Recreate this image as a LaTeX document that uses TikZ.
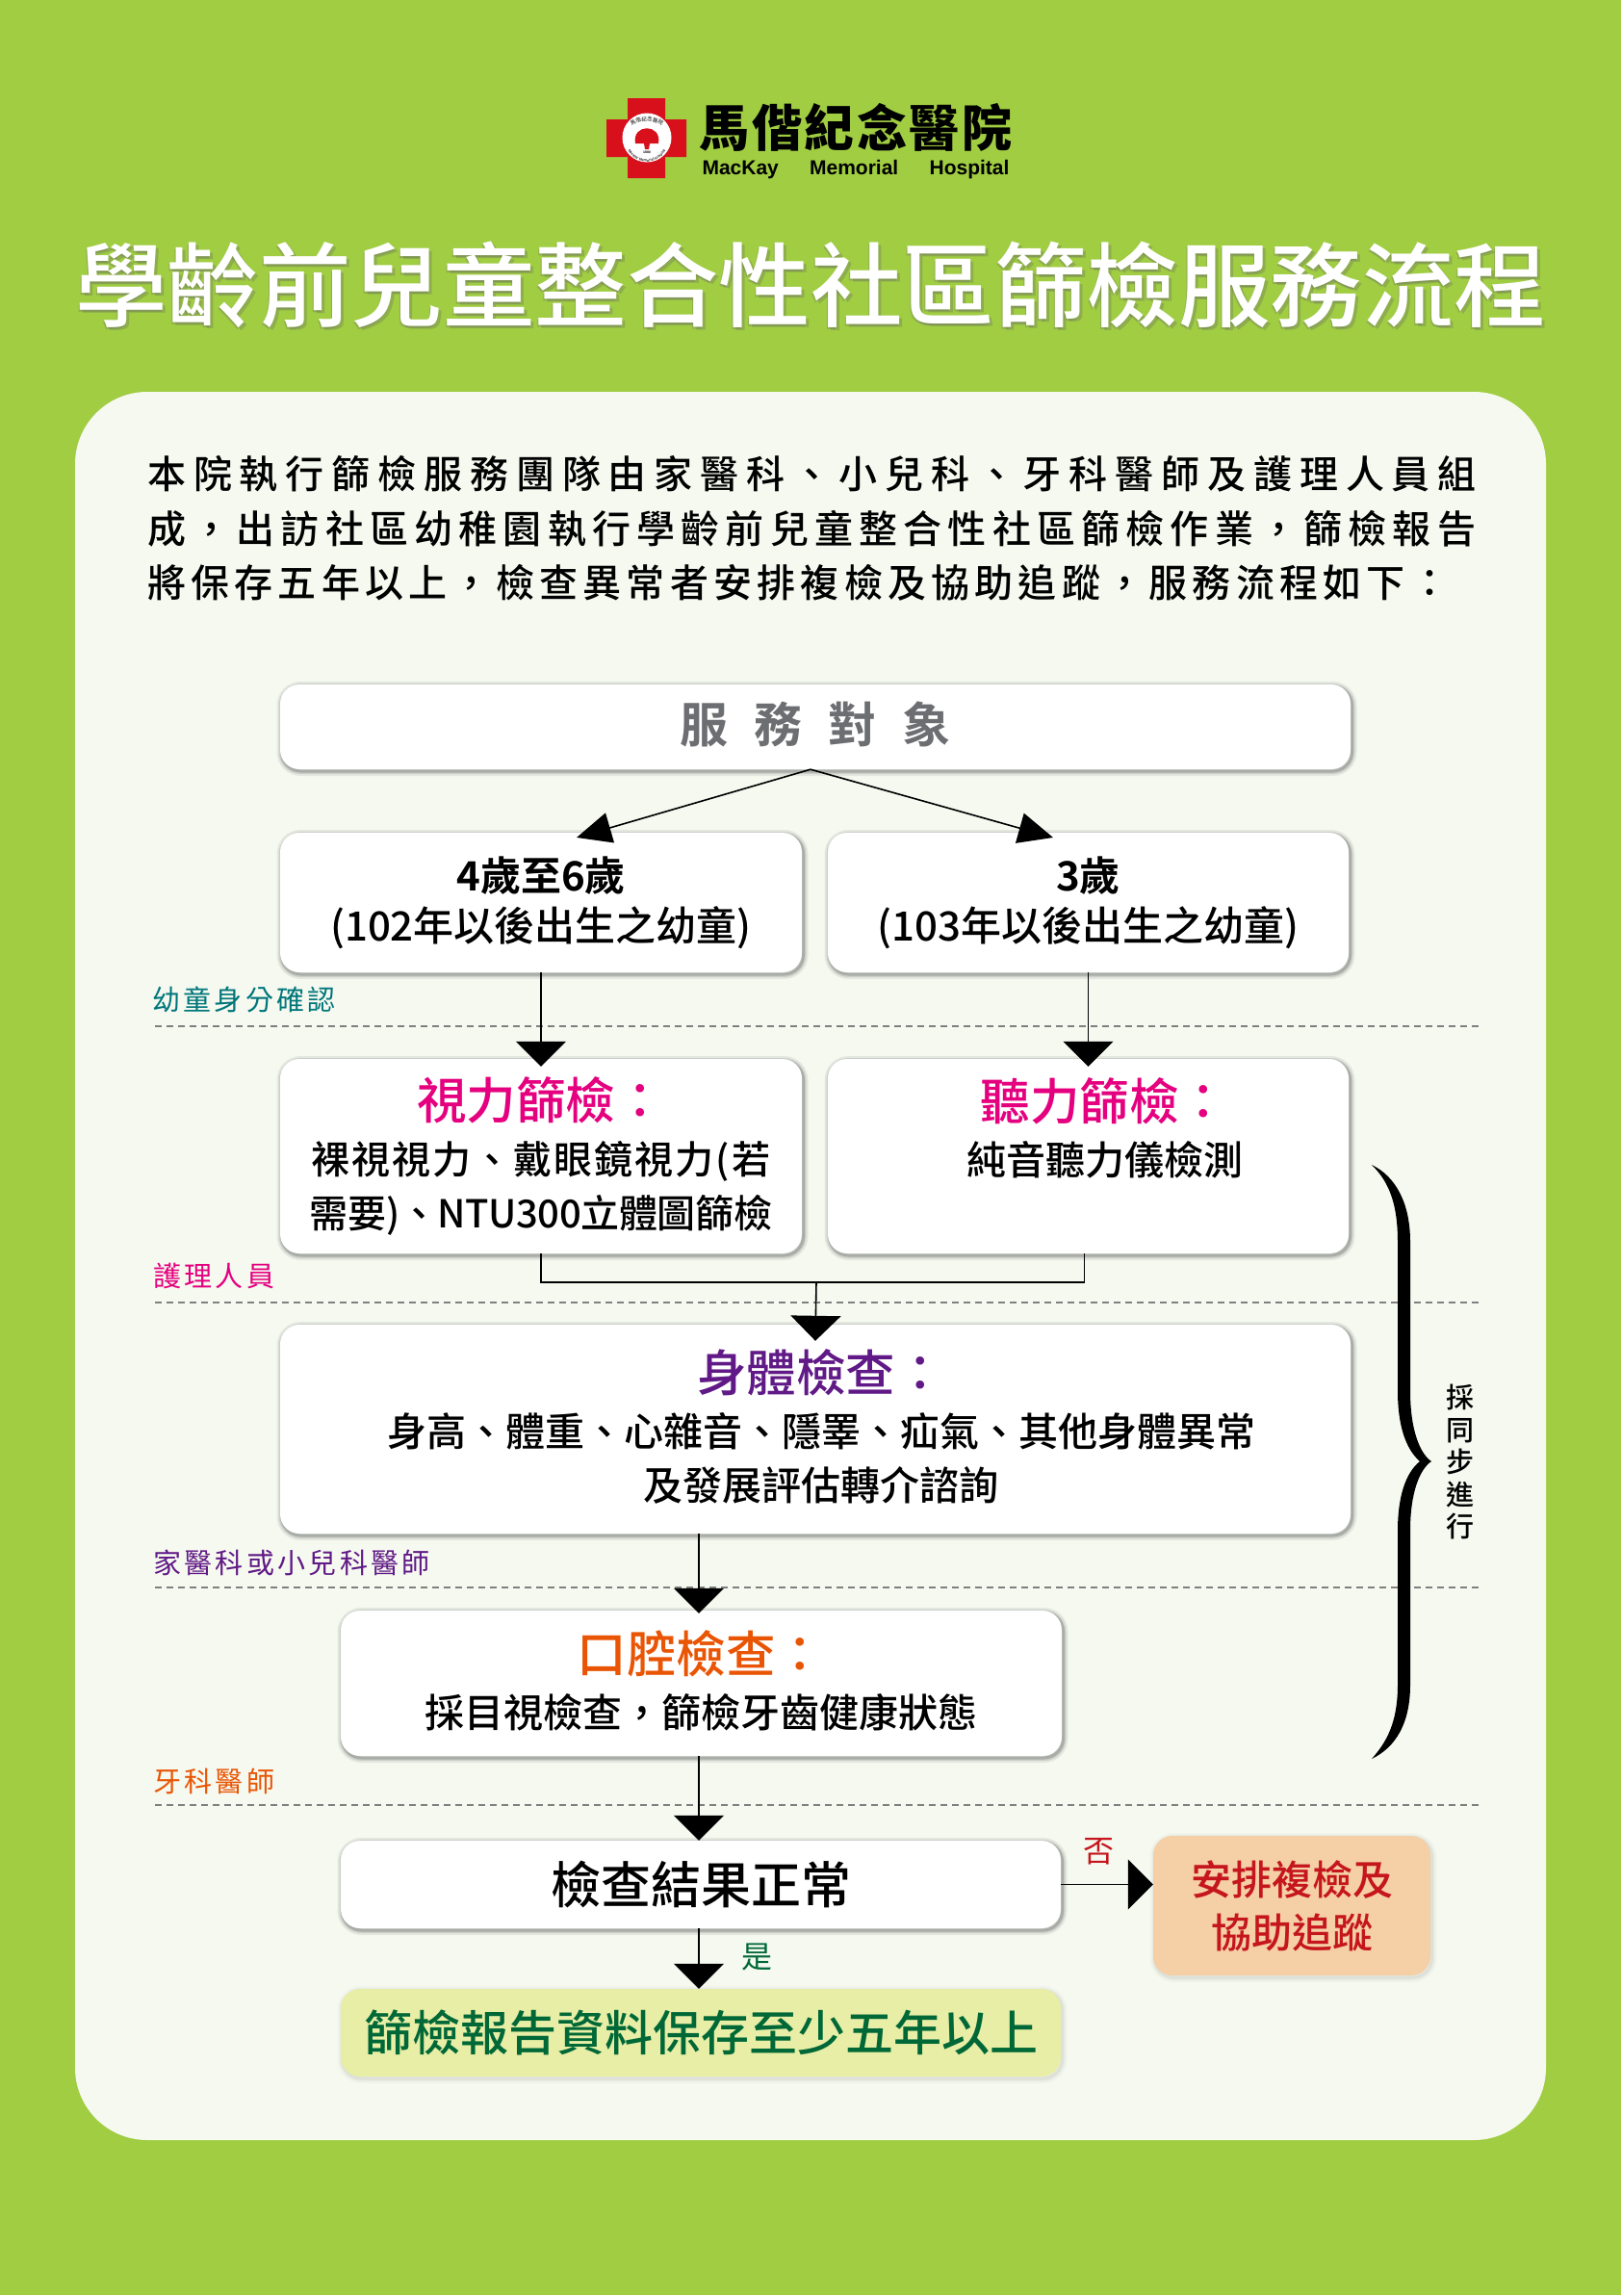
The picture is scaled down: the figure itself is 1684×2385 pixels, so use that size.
\documentclass[tikz,border=0pt]{standalone}
\usepackage{fontspec}
\setmainfont{Noto Sans CJK TC Medium}[BoldFont={Noto Sans CJK TC Bold}]
\newfontfamily\titlefont{Noto Sans CJK TC Medium}
\newfontfamily\brushfont{Noto Sans CJK TC Black}[LetterSpace=5]
\newfontfamily\logoenfont{Liberation Sans}
\newfontfamily\stagefont{Noto Sans CJK TC}[LetterSpace=11.5]
\usetikzlibrary{arrows.meta,decorations.text}
\definecolor{pagegreen}{HTML}{A0CD42}
\definecolor{panelbg}{HTML}{F5F9F0}
\definecolor{crossred}{HTML}{D7101C}
\definecolor{headgray}{HTML}{6D6E71}
\definecolor{stageteal}{HTML}{00767A}
\definecolor{stagepink}{HTML}{E5007F}
\definecolor{stagepurple}{HTML}{601986}
\definecolor{stageorange}{HTML}{E95504}
\definecolor{noteorange}{HTML}{F5CFA5}
\definecolor{notered}{HTML}{C5161D}
\definecolor{keepgreen}{HTML}{E8EEA5}
\definecolor{yesgreen}{HTML}{006837}
\newcommand{\titletext}{學齡前兒童整合性社區篩檢服務流程}
\newcommand{\boxhead}[2]{{\fontsize{51.5}{56}\selectfont\color{#1}#2}\\[1pt]}
\newcommand{\lifted}[1]{\raisebox{3pt}[\height][\depth]{#1}}
\tikzset{
  shadowring/.style 2 args={
    preaction={draw=black,draw opacity=#2,line width=#1,transform canvas={xshift=1.5pt,yshift=-2pt}}
  },
  flowbox/.style={
    rounded corners=20pt,
    fill=white,
    inner sep=0pt,
    align=center,
    font=\fontsize{41}{56}\selectfont,
    shadowring={10pt}{.07},
    shadowring={6pt}{.1},
    shadowring={3pt}{.16}
  },
  softbox/.style={
    rounded corners=20pt,
    inner sep=0pt,
    align=center,
    shadowring={10pt}{.025},
    shadowring={6pt}{.03},
    shadowring={3pt}{.04}
  },
  stagelabel/.style={anchor=west,inner sep=0pt,font=\stagefont\fontsize{29}{30}\selectfont},
  stageline/.style={gray,line width=1.4pt,dash pattern=on 7pt off 5pt},
  flowline/.style={line width=1.6pt,-{Triangle[length=26pt,width=52pt]}},
  slantline/.style={line width=1.6pt,-{Triangle[length=36pt,width=32pt]}},
}
\begin{document}
\begin{tikzpicture}[x=1pt,y=-1pt]
\useasboundingbox (0,0) rectangle (1684,2385);
\fill[pagegreen] (0,0) rectangle (1684,2384);
% logo
\fill[crossred] (652,102) rectangle (691,185) (630,124) rectangle (713,163);
\fill[white] (672,143) circle[radius=25.5pt];
\fill[crossred] (660,149) .. controls (656,128) and (688,128) .. (684,149) -- (675,149) -- (674,155) -- (670,155) -- (669,149) -- cycle;
\path[decorate,decoration={text along path,text align=center,text color=black!80,text={|\fontsize{5.5}{6}\selectfont|馬偕紀念醫院}}] (651,147) .. controls (646,119) and (698,119) .. (693,147);
\path[decorate,decoration={text along path,text align=center,text color=black!80,text={|\logoenfont\bfseries\fontsize{3.8}{4}\selectfont|MacKay Memorial Hospital}}] (650,150) .. controls (656,174) and (688,174) .. (694,150);
\node[inner sep=0pt,font=\logoenfont\bfseries\fontsize{3.5}{4}\selectfont] (logoyear) at (672,158) {1880};
\node[inner sep=0pt,font=\brushfont\fontsize{52}{54}\selectfont] (logoname) at (889,132) {馬偕紀念醫院};
\node[inner sep=0pt,font=\logoenfont\bfseries\fontsize{21}{24}\selectfont] (logoen) at (889,176) {\makebox[319pt]{MacKay\hfill Memorial\hfill Hospital}};
% title
\foreach \shiftx/\shifty in {3/3,-1/2} {
  \node[inner sep=0pt,opacity=.3,font=\titlefont\fontsize{95.5}{100}\selectfont,text=black!60] at (842+\shiftx,296+\shifty) {\titletext};
}
\node[inner sep=0pt,font=\titlefont\fontsize{95.5}{100}\selectfont,text=white] (title) at (842,296) {\titletext};
% panel
\node[fill=panelbg,rounded corners=75pt,minimum width=1528pt,minimum height=1816pt,inner sep=0pt] (panel) at (842,1315) {};
\node[anchor=west,inner sep=0pt,align=left,font=\fontsize{40}{56.3}\selectfont] (intro) at (153,549) {%
{\addfontfeature{LetterSpace=19.7}本院執行篩檢服務團隊由家醫科、小兒科、牙科醫師及護理人員組}\\
{\addfontfeature{LetterSpace=15.5}成，出訪社區幼稚園執行學齡前兒童整合性社區篩檢作業，篩檢報告}\\
{\addfontfeature{LetterSpace=13.1}將保存五年以上，檢查異常者安排複檢及協助追蹤，服務流程如下：}};
% stage rules
\foreach \ruley in {1066,1353,1649,1875} {
  \draw[stageline] (161,\ruley) -- (1537,\ruley);
}
\node[stagelabel,text=stageteal] (stagea) at (158,1038) {幼童身分確認};
\node[stagelabel,text=stagepink] (stageb) at (159,1325) {護理人員};
\node[stagelabel,text=stagepurple] (stagec) at (159,1623) {家醫科或小兒科醫師};
\node[stagelabel,text=stageorange] (staged) at (159,1850) {牙科醫師};
% boxes
\node[flowbox,minimum width=1112pt,minimum height=88pt,font=\bfseries\fontsize{50}{56}\selectfont,text=headgray] (target) at (847,755) {\lifted{服\hspace{27pt}務\hspace{27pt}對\hspace{27pt}象}};
\node[flowbox,minimum width=542pt,minimum height=145pt,font=\fontsize{42}{52}\selectfont] (agefour) at (562,937.5) {\textbf{4歲至6歲}\\(102年以後出生之幼童)};
\node[flowbox,minimum width=541pt,minimum height=145pt,font=\fontsize{42}{52}\selectfont] (agethree) at (1130.5,937.5) {\textbf{3歲}\\(103年以後出生之幼童)};
\node[flowbox,minimum width=542pt,minimum height=202pt,font=\fontsize{40}{56}\selectfont] (vision) at (562,1201) {\boxhead{stagepink}{視力篩檢：}{\addfontfeature{LetterSpace=5}裸視視力、戴眼鏡視力(若}\\{\addfontfeature{LetterSpace=-1}需要)、NTU300立體圖篩檢}};
\node[flowbox,minimum width=541pt,minimum height=202pt] (hearing) at (1130.5,1201) {\boxhead{stagepink}{\hspace*{34pt}\lifted{聽力篩檢：}}\hspace*{34pt}\lifted{純音聽力儀檢測}\\~};
\node[flowbox,minimum width=1112pt,minimum height=217pt] (body) at (847,1484.5) {\boxhead{stagepurple}{\hspace*{12pt}\lifted{身體檢查：}}\hspace*{12pt}\lifted{身高、體重、心雜音、隱睪、疝氣、其他身體異常}\\\hspace*{12pt}\lifted{及發展評估轉介諮詢}};
\node[flowbox,minimum width=749pt,minimum height=151pt] (oral) at (728.5,1748.5) {\boxhead{stageorange}{\lifted{口腔檢查：}}\lifted{採目視檢查，篩檢牙齒健康狀態}};
\node[flowbox,minimum width=748pt,minimum height=91pt,font=\fontsize{52}{56}\selectfont] (result) at (728,1957.5) {檢查結果正常};
\node[softbox,fill=keepgreen,minimum width=748pt,minimum height=91pt,font=\fontsize{50}{56}\selectfont,text=yesgreen] (keep) at (728,2111.5) {篩檢報告資料保存至少五年以上};
\node[softbox,fill=noteorange,minimum width=288pt,minimum height=145pt,text=notered,font=\fontsize{42}{55}\selectfont] (recheck) at (1342,1979.5) {安排複檢及\\協助追蹤};
% connectors
\coordinate (tipfour) at (599,870);
\coordinate (tipthree) at (1094,870);
\draw[slantline] ([xshift=-5pt]target.south) -- (tipfour);
\draw[slantline] ([xshift=-5pt]target.south) -- (tipthree);
\draw[flowline] (agefour.south) -- ([yshift=-8pt]agefour.south |- vision.north);
\draw[flowline] (agethree.south) -- ([yshift=-8pt]vision.north -| agethree.south);
\coordinate (joinpoint) at (848,1332);
\draw[line width=1.6pt] (vision.south) |- (joinpoint) -| ([xshift=-4pt]hearing.south);
\draw[flowline] (joinpoint) -- ([yshift=-17pt]body.north);
\coordinate (midline) at (726,1900);
\draw[flowline] (midline |- body.south) -- ([yshift=-3pt]midline |- oral.north);
\draw[flowline] (midline |- oral.south) -- (midline |- result.north);
\draw[flowline] (midline |- result.south) -- (midline |- keep.north);
\draw[flowline] (result.east) -- (recheck.west |- result.east);
\node[inner sep=0pt,text=notered,font=\stagefont\fontsize{32}{34}\selectfont] (nolabel) at (1141,1923) {否};
\node[inner sep=0pt,text=yesgreen,font=\stagefont\fontsize{32}{34}\selectfont] (yeslabel) at (786,2033) {是};
% brace
\fill[black] (1425,1210) .. controls (1450,1222) and (1465,1250) .. (1465,1290) -- (1465,1445) .. controls (1465,1485) and (1475,1510) .. (1487,1518) .. controls (1475,1526) and (1465,1550) .. (1465,1590) -- (1465,1750) .. controls (1465,1790) and (1450,1815) .. (1425,1827) .. controls (1440,1810) and (1452,1790) .. (1452,1750) -- (1452,1590) .. controls (1452,1555) and (1460,1530) .. (1475,1518) .. controls (1460,1505) and (1452,1480) .. (1452,1445) -- (1452,1290) .. controls (1452,1245) and (1440,1225) .. (1425,1210) -- cycle;
\node[inner sep=0pt,align=center,font=\fontsize{29}{33.5}\selectfont] (sametime) at (1517,1519) {採\\同\\步\\進\\行};
\end{tikzpicture}
\end{document}
